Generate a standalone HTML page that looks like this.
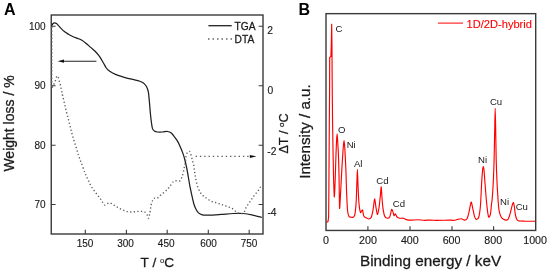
<!DOCTYPE html>
<html><head><meta charset="utf-8"><style>
html,body{margin:0;padding:0;background:#fff;}
body{width:550px;height:274px;overflow:hidden;font-family:"Liberation Sans",sans-serif;}
svg{display:block;will-change:transform;}
</style></head><body>
<svg width="550" height="274" viewBox="0 0 550 274">
<text x="4.0" y="15" font-family="Liberation Sans, sans-serif" font-size="16" font-weight="bold" fill="#000">A</text>
<rect x="51.25" y="15.0" width="211.75" height="219.0" fill="none" stroke="#3a3a3a" stroke-width="1.4"/>
<path d="M51.25 26.2H55.6 M258.6 26.2H263 M51.25 85.7H55.6 M258.6 85.7H263 M51.25 145.25H55.6 M258.6 145.25H263 M51.25 204.5H55.6 M258.6 204.5H263 M85.3 234V229.7 M126.4 234V229.7 M167.2 234V229.7 M208.3 234V229.7 M249.2 234V229.7" stroke="#3a3a3a" stroke-width="1.1" fill="none"/>
<text x="45.6" y="29.7" font-family="Liberation Sans, sans-serif" font-size="10" text-anchor="end" fill="#1a1a1a" stroke="#1a1a1a" stroke-width="0.14">100</text>
<text x="45.6" y="89.3" font-family="Liberation Sans, sans-serif" font-size="10" text-anchor="end" fill="#1a1a1a" stroke="#1a1a1a" stroke-width="0.14">90</text>
<text x="45.6" y="148.5" font-family="Liberation Sans, sans-serif" font-size="10" text-anchor="end" fill="#1a1a1a" stroke="#1a1a1a" stroke-width="0.14">80</text>
<text x="45.6" y="207.9" font-family="Liberation Sans, sans-serif" font-size="10" text-anchor="end" fill="#1a1a1a" stroke="#1a1a1a" stroke-width="0.14">70</text>
<text x="267.3" y="33.6" font-family="Liberation Sans, sans-serif" font-size="10.3" fill="#1a1a1a" stroke="#1a1a1a" stroke-width="0.14">2</text>
<text x="267.4" y="93.5" font-family="Liberation Sans, sans-serif" font-size="10.3" fill="#1a1a1a" stroke="#1a1a1a" stroke-width="0.14">0</text>
<text x="267.3" y="154.5" font-family="Liberation Sans, sans-serif" font-size="10.3" fill="#1a1a1a" stroke="#1a1a1a" stroke-width="0.14">-2</text>
<text x="267.4" y="215.8" font-family="Liberation Sans, sans-serif" font-size="10.3" fill="#1a1a1a" stroke="#1a1a1a" stroke-width="0.14">-4</text>
<text x="85.0" y="246.9" font-family="Liberation Sans, sans-serif" font-size="10" text-anchor="middle" fill="#1a1a1a" stroke="#1a1a1a" stroke-width="0.14">150</text>
<text x="125.5" y="246.9" font-family="Liberation Sans, sans-serif" font-size="10" text-anchor="middle" fill="#1a1a1a" stroke="#1a1a1a" stroke-width="0.14">300</text>
<text x="166.2" y="246.9" font-family="Liberation Sans, sans-serif" font-size="10" text-anchor="middle" fill="#1a1a1a" stroke="#1a1a1a" stroke-width="0.14">450</text>
<text x="208.6" y="246.9" font-family="Liberation Sans, sans-serif" font-size="10" text-anchor="middle" fill="#1a1a1a" stroke="#1a1a1a" stroke-width="0.14">600</text>
<text x="249.0" y="246.9" font-family="Liberation Sans, sans-serif" font-size="10" text-anchor="middle" fill="#1a1a1a" stroke="#1a1a1a" stroke-width="0.14">750</text>
<text x="140.6" y="267.1" font-family="Liberation Sans, sans-serif" font-size="13.6" fill="#1a1a1a" stroke="#1a1a1a" stroke-width="0.28">T / <tspan font-size="7.6" dy="-4.4" stroke-width="0.1">o</tspan><tspan dy="4.4">C</tspan></text>
<text transform="translate(14.0,171.6) rotate(-90)" x="0" y="0" font-family="Liberation Sans, sans-serif" font-size="14" fill="#1a1a1a" stroke="#1a1a1a" stroke-width="0.28">Weight loss / %</text>
<text transform="translate(288.1,153.6) rotate(-90)" x="0" y="0" font-family="Liberation Sans, sans-serif" font-size="12.7" fill="#1a1a1a" stroke="#1a1a1a" stroke-width="0.28">&#916;T / <tspan font-size="8" dy="-4.4">o</tspan><tspan dy="4.4">C</tspan></text>
<path d="M208.4 25.7H231.7" stroke="#222" stroke-width="1.3"/>
<text x="234.6" y="30.1" font-family="Liberation Sans, sans-serif" font-size="10.2" fill="#1a1a1a" stroke="#1a1a1a" stroke-width="0.28">TGA</text>
<path d="M208.0 38.9H232" stroke="#666" stroke-width="1.5" stroke-dasharray="1.5 3.0"/>
<text x="234.6" y="42.9" font-family="Liberation Sans, sans-serif" font-size="10.2" fill="#1a1a1a" stroke="#1a1a1a" stroke-width="0.28">DTA</text>
<path d="M51.90 25.60 C52.08 25.25 52.53 23.97 53.00 23.50 C53.47 23.03 54.12 22.78 54.70 22.80 C55.28 22.82 55.87 23.13 56.50 23.60 C57.13 24.07 57.92 24.97 58.50 25.60 C59.08 26.23 59.38 26.73 60.00 27.40 C60.62 28.07 61.47 28.92 62.20 29.60 C62.93 30.28 63.67 30.92 64.40 31.50 C65.13 32.08 65.87 32.60 66.60 33.10 C67.33 33.60 67.70 33.90 68.80 34.50 C69.90 35.10 71.75 36.07 73.20 36.70 C74.65 37.33 76.05 37.72 77.50 38.30 C78.95 38.88 80.43 39.33 81.90 40.20 C83.37 41.07 84.83 42.30 86.30 43.50 C87.77 44.70 89.23 46.12 90.70 47.40 C92.17 48.68 93.73 49.83 95.10 51.20 C96.47 52.57 97.87 54.25 98.90 55.60 C99.93 56.95 100.48 57.97 101.30 59.30 C102.12 60.63 102.97 62.15 103.80 63.60 C104.63 65.05 105.37 66.75 106.30 68.00 C107.23 69.25 108.27 70.22 109.40 71.10 C110.53 71.98 111.67 72.58 113.10 73.30 C114.53 74.02 116.13 74.73 118.00 75.40 C119.87 76.07 122.02 76.67 124.30 77.30 C126.58 77.93 129.43 78.65 131.70 79.20 C133.97 79.75 136.25 80.13 137.90 80.60 C139.55 81.07 140.57 81.50 141.60 82.00 C142.63 82.50 143.27 82.82 144.10 83.60 C144.93 84.38 145.90 85.35 146.60 86.70 C147.30 88.05 147.92 90.05 148.30 91.70 C148.68 93.35 148.70 94.75 148.90 96.60 C149.10 98.45 149.32 100.73 149.50 102.80 C149.68 104.87 149.82 106.88 150.00 109.00 C150.18 111.12 150.35 113.17 150.60 115.50 C150.85 117.83 151.18 120.82 151.50 123.00 C151.82 125.18 152.02 127.25 152.50 128.60 C152.98 129.95 153.57 130.53 154.40 131.10 C155.23 131.67 156.15 131.85 157.50 132.00 C158.85 132.15 160.83 132.08 162.50 132.00 C164.17 131.92 166.03 131.33 167.50 131.50 C168.97 131.67 170.15 132.12 171.30 133.00 C172.45 133.88 173.37 135.45 174.40 136.80 C175.43 138.15 176.57 139.53 177.50 141.10 C178.43 142.67 179.08 144.12 180.00 146.20 C180.92 148.28 182.18 151.30 183.00 153.60 C183.82 155.90 184.27 157.52 184.90 160.00 C185.53 162.48 186.33 166.28 186.80 168.50 C187.27 170.72 187.17 170.27 187.70 173.30 C188.23 176.33 189.20 182.53 190.00 186.70 C190.80 190.87 191.80 195.25 192.50 198.30 C193.20 201.35 193.62 203.18 194.20 205.00 C194.78 206.82 195.28 207.88 196.00 209.20 C196.72 210.52 197.47 211.97 198.50 212.90 C199.53 213.83 200.55 214.43 202.20 214.80 C203.85 215.17 205.30 215.17 208.40 215.10 C211.50 215.03 216.67 214.67 220.80 214.40 C224.93 214.13 229.48 213.65 233.20 213.50 C236.92 213.35 240.00 213.28 243.10 213.50 C246.20 213.72 248.68 214.13 251.80 214.80 C254.92 215.47 260.13 217.05 261.80 217.50" stroke="#1e1e1e" stroke-width="1.25" fill="none"/>
<path d="M51.80 27.00 C51.80 32.50 51.80 50.17 51.80 60.00 C51.80 69.83 51.63 81.67 51.80 86.00 C51.97 90.33 52.43 86.33 52.80 86.00 C53.17 85.67 53.57 84.88 54.00 84.00 C54.43 83.12 54.90 82.03 55.40 80.70 C55.90 79.37 56.48 76.45 57.00 76.00 C57.52 75.55 58.08 77.00 58.50 78.00 C58.92 79.00 59.18 80.83 59.50 82.00 C59.82 83.17 60.12 83.85 60.40 85.00 C60.68 86.15 60.93 87.63 61.20 88.90 C61.47 90.17 61.77 91.50 62.00 92.60 C62.23 93.70 62.18 93.68 62.60 95.50 C63.02 97.32 63.83 100.67 64.50 103.50 C65.17 106.33 65.90 109.67 66.60 112.50 C67.30 115.33 68.00 117.75 68.70 120.50 C69.40 123.25 70.10 126.27 70.80 129.00 C71.50 131.73 72.05 133.98 72.90 136.90 C73.75 139.82 74.97 143.43 75.90 146.50 C76.83 149.57 77.63 152.67 78.50 155.30 C79.37 157.93 80.08 159.53 81.10 162.30 C82.12 165.07 83.73 169.60 84.60 171.90 C85.47 174.20 85.58 174.48 86.30 176.10 C87.02 177.72 88.02 179.78 88.90 181.60 C89.78 183.42 90.57 185.28 91.60 187.00 C92.63 188.72 93.93 190.32 95.10 191.90 C96.27 193.48 97.63 195.23 98.60 196.50 C99.57 197.77 100.22 198.52 100.90 199.50 C101.58 200.48 102.05 201.47 102.70 202.40 C103.35 203.33 104.08 204.88 104.80 205.10 C105.52 205.32 106.17 204.08 107.00 203.70 C107.83 203.32 108.87 202.70 109.80 202.80 C110.73 202.90 111.72 203.78 112.60 204.30 C113.48 204.82 114.22 205.37 115.10 205.90 C115.98 206.43 116.97 206.98 117.90 207.50 C118.83 208.02 119.68 208.52 120.70 209.00 C121.72 209.48 122.87 209.97 124.00 210.40 C125.13 210.83 126.33 211.33 127.50 211.60 C128.67 211.87 129.82 211.98 131.00 212.00 C132.18 212.02 133.43 211.80 134.60 211.70 C135.77 211.60 136.82 211.45 138.00 211.40 C139.18 211.35 140.50 211.25 141.70 211.40 C142.90 211.55 144.25 211.63 145.20 212.30 C146.15 212.97 146.83 214.37 147.40 215.40 C147.97 216.43 148.25 218.63 148.60 218.50 C148.95 218.37 149.20 216.02 149.50 214.60 C149.80 213.18 150.13 211.60 150.40 210.00 C150.67 208.40 150.75 206.53 151.10 205.00 C151.45 203.47 151.98 201.92 152.50 200.80 C153.02 199.68 153.37 198.77 154.20 198.30 C155.03 197.83 156.40 198.55 157.50 198.00 C158.60 197.45 159.55 196.05 160.80 195.00 C162.05 193.95 163.75 192.82 165.00 191.70 C166.25 190.58 167.33 189.42 168.30 188.30 C169.27 187.18 169.97 186.10 170.80 185.00 C171.63 183.90 172.47 182.40 173.30 181.70 C174.13 181.00 174.68 180.95 175.80 180.80 C176.92 180.65 179.02 181.35 180.00 180.80 C180.98 180.25 181.15 178.88 181.70 177.50 C182.25 176.12 182.87 174.20 183.30 172.50 C183.73 170.80 183.93 169.22 184.30 167.30 C184.67 165.38 185.20 162.88 185.50 161.00 C185.80 159.12 185.77 157.42 186.10 156.00 C186.43 154.58 186.95 153.27 187.50 152.50 C188.05 151.73 188.88 151.32 189.40 151.40 C189.92 151.48 190.25 152.10 190.60 153.00 C190.95 153.90 191.18 155.53 191.50 156.80 C191.82 158.07 192.15 159.23 192.50 160.60 C192.85 161.97 193.28 163.37 193.60 165.00 C193.92 166.63 194.13 168.65 194.40 170.40 C194.67 172.15 194.90 173.73 195.20 175.50 C195.50 177.27 195.75 179.00 196.20 181.00 C196.65 183.00 197.22 185.60 197.90 187.50 C198.58 189.40 199.48 191.07 200.30 192.40 C201.12 193.73 201.97 194.67 202.80 195.50 C203.63 196.33 204.37 196.72 205.30 197.40 C206.23 198.08 207.27 198.88 208.40 199.60 C209.53 200.32 210.85 201.18 212.10 201.70 C213.35 202.22 214.65 202.33 215.90 202.70 C217.15 203.07 218.47 203.53 219.60 203.90 C220.73 204.27 221.57 204.53 222.70 204.90 C223.83 205.27 225.27 205.70 226.40 206.10 C227.53 206.50 228.37 206.78 229.50 207.30 C230.63 207.82 232.12 208.47 233.20 209.20 C234.28 209.93 235.12 211.03 236.00 211.70 C236.88 212.37 237.58 212.88 238.50 213.20 C239.42 213.52 240.52 213.85 241.50 213.60 C242.48 213.35 243.62 212.75 244.40 211.70 C245.18 210.65 245.48 208.65 246.20 207.30 C246.92 205.95 247.87 204.83 248.70 203.60 C249.53 202.37 250.37 201.13 251.20 199.90 C252.03 198.67 252.87 197.33 253.70 196.20 C254.53 195.07 255.37 194.13 256.20 193.10 C257.03 192.07 257.98 191.03 258.70 190.00 C259.42 188.97 259.92 187.63 260.50 186.90 C261.08 186.17 261.92 185.82 262.20 185.60" stroke="#626262" stroke-width="1.4" fill="none" stroke-dasharray="1.3 2.3"/>
<path d="M96.4 61.2H62" stroke="#222" stroke-width="1.1"/>
<path d="M57.6 61.2L64.0 59.6L64.0 62.8Z" fill="#111"/>
<path d="M195.6 156.4H249" stroke="#5e5e5e" stroke-width="1.4" stroke-dasharray="1.4 2.9"/>
<path d="M256.4 156.4L249.8 154.9L249.8 157.9Z" fill="#111"/>
<text x="298.6" y="15" font-family="Liberation Sans, sans-serif" font-size="16" font-weight="bold" fill="#000">B</text>
<rect x="326.0" y="13.65" width="209.7" height="216.8" fill="none" stroke="#3a3a3a" stroke-width="1.4"/>
<path d="M367.9 230.5V226.3 M410 230.5V226.3 M452 230.5V226.3 M493.6 230.5V226.3" stroke="#3a3a3a" stroke-width="1.1" fill="none"/>
<text x="326.1" y="244.0" font-family="Liberation Sans, sans-serif" font-size="10.7" text-anchor="middle" fill="#1a1a1a" stroke="#1a1a1a" stroke-width="0.14">0</text>
<text x="368" y="244.0" font-family="Liberation Sans, sans-serif" font-size="10.7" text-anchor="middle" fill="#1a1a1a" stroke="#1a1a1a" stroke-width="0.14">200</text>
<text x="409.8" y="244.0" font-family="Liberation Sans, sans-serif" font-size="10.7" text-anchor="middle" fill="#1a1a1a" stroke="#1a1a1a" stroke-width="0.14">400</text>
<text x="451.6" y="244.0" font-family="Liberation Sans, sans-serif" font-size="10.7" text-anchor="middle" fill="#1a1a1a" stroke="#1a1a1a" stroke-width="0.14">600</text>
<text x="493.2" y="244.0" font-family="Liberation Sans, sans-serif" font-size="10.7" text-anchor="middle" fill="#1a1a1a" stroke="#1a1a1a" stroke-width="0.14">800</text>
<text x="535.1" y="244.0" font-family="Liberation Sans, sans-serif" font-size="10.7" text-anchor="middle" fill="#1a1a1a" stroke="#1a1a1a" stroke-width="0.14">1000</text>
<text x="360.0" y="266.2" font-family="Liberation Sans, sans-serif" font-size="15.3" fill="#1a1a1a" stroke="#1a1a1a" stroke-width="0.28">Binding energy / keV</text>
<text transform="translate(310.4,178.8) rotate(-90)" x="0" y="0" font-family="Liberation Sans, sans-serif" font-size="15.2" fill="#1a1a1a" stroke="#1a1a1a" stroke-width="0.28">Intensity / a.u.</text>
<path d="M437.9 23.1H463" stroke="#ff0000" stroke-width="1.0"/>
<text x="466.6" y="27.7" font-family="Liberation Sans, sans-serif" font-size="11.1" fill="#ff0000" stroke="#ff0000" stroke-width="0.12">1D/2D-hybrid</text>
<path d="M326.30 222.20 L328.00 221.60 L328.60 217.00 L328.80 200.00 L329.00 170.00 L329.30 125.00 L329.60 90.00 L329.70 57.50 L330.90 56.50 L331.30 45.00 L331.70 24.20 L331.95 45.00 L332.10 70.00 L332.30 95.00 L332.60 125.00 L333.10 155.00 L333.60 180.00 L333.60 180.00 C333.68 181.94 334.11 195.43 334.25 196.60 C334.39 197.77 334.65 193.10 334.80 190.00 C334.95 186.90 335.36 174.20 335.50 170.00 C335.64 165.80 335.87 157.50 336.00 154.00 C336.13 150.50 336.47 142.37 336.60 140.00 C336.73 137.63 336.98 133.70 337.10 133.70 C337.22 133.70 337.45 137.63 337.60 140.00 C337.75 142.37 338.24 149.92 338.40 154.00 C338.56 158.08 338.89 170.22 339.00 175.00 C339.11 179.78 339.23 191.09 339.30 195.00 C339.37 198.91 339.50 207.92 339.60 208.50 C339.71 209.08 340.04 202.74 340.20 200.00 C340.36 197.26 340.78 189.08 341.00 185.00 C341.22 180.92 341.84 169.32 342.10 165.00 C342.36 160.68 342.98 150.85 343.20 148.00 C343.42 145.15 343.81 140.60 344.00 140.60 C344.19 140.60 344.58 144.57 344.80 148.00 C345.02 151.43 345.70 165.10 345.90 170.00 C346.10 174.90 346.31 185.33 346.50 190.00 C346.69 194.67 347.21 206.90 347.50 210.00 C347.79 213.10 348.59 215.76 349.00 216.60 C349.41 217.44 350.49 217.13 351.00 217.20 C351.51 217.27 352.99 217.40 353.40 217.20 C353.81 217.00 354.29 216.04 354.50 215.50 C354.71 214.96 355.00 214.25 355.20 212.60 C355.40 210.95 356.01 204.62 356.20 201.40 C356.39 198.18 356.66 188.75 356.80 185.00 C356.94 181.25 357.26 169.30 357.40 169.30 C357.54 169.30 357.86 181.65 358.00 185.00 C358.14 188.35 358.45 195.50 358.60 198.00 C358.75 200.50 359.08 204.70 359.30 206.40 C359.52 208.10 360.24 212.06 360.50 212.60 C360.76 213.14 361.27 211.29 361.50 211.00 C361.73 210.71 362.24 209.53 362.50 210.10 C362.76 210.67 363.34 215.03 363.70 215.90 C364.06 216.78 365.02 217.24 365.60 217.60 C366.18 217.96 368.06 219.00 368.70 219.00 C369.34 219.00 370.60 218.64 371.10 217.60 C371.60 216.56 372.59 212.27 373.00 210.10 C373.41 207.93 374.25 199.29 374.60 199.00 C374.95 198.71 375.66 205.79 376.00 207.60 C376.34 209.41 377.13 214.64 377.50 214.50 C377.87 214.36 378.86 208.65 379.20 206.40 C379.54 204.15 380.17 197.47 380.40 195.20 C380.63 192.92 381.01 186.61 381.20 186.90 C381.39 187.19 381.80 195.28 382.00 197.70 C382.20 200.11 382.58 205.43 382.90 207.60 C383.21 209.77 384.20 215.06 384.70 216.30 C385.20 217.54 386.62 218.12 387.20 218.20 C387.78 218.28 389.19 218.01 389.70 217.00 C390.21 215.99 391.24 210.15 391.60 209.50 C391.96 208.85 392.52 210.68 392.80 211.40 C393.08 212.12 393.71 215.41 394.00 215.70 C394.29 215.99 394.94 213.75 395.30 213.90 C395.66 214.05 396.60 216.50 397.10 217.00 C397.60 217.50 398.87 218.06 399.60 218.20 C400.34 218.34 402.68 218.06 403.40 218.20 C404.12 218.34 405.23 219.18 405.80 219.40 C406.37 219.62 407.58 220.02 408.30 220.10 C409.02 220.18 410.87 220.13 412.00 220.10 C413.13 220.06 416.60 219.78 418.00 219.80 C419.40 219.82 422.55 220.27 424.00 220.30 C425.45 220.34 429.00 220.09 430.40 220.10 C431.80 220.11 434.55 220.38 436.00 220.40 C437.45 220.42 441.40 220.34 442.80 220.30 C444.20 220.27 446.69 220.10 448.00 220.10 C449.31 220.10 452.87 220.38 454.00 220.30 C455.13 220.22 456.84 219.58 457.70 219.40 C458.56 219.22 460.61 218.72 461.40 218.80 C462.19 218.88 463.85 220.10 464.50 220.10 C465.15 220.10 466.49 219.68 467.00 218.80 C467.51 217.93 468.42 214.55 468.90 212.60 C469.38 210.65 470.67 202.68 471.10 202.10 C471.53 201.52 472.20 205.94 472.60 207.60 C473.00 209.26 474.07 214.92 474.50 216.30 C474.93 217.68 475.80 219.32 476.30 219.40 C476.80 219.48 478.31 218.68 478.80 217.00 C479.29 215.32 480.16 209.09 480.50 205.00 C480.84 200.91 481.45 185.98 481.70 181.90 C481.94 177.82 482.43 171.78 482.60 170.00 C482.78 168.22 483.04 166.60 483.20 166.60 C483.36 166.60 483.80 168.22 484.00 170.00 C484.20 171.78 484.58 177.96 484.90 181.90 C485.21 185.84 486.27 199.71 486.70 203.80 C487.13 207.90 488.16 215.82 488.60 217.00 C489.04 218.18 490.16 215.44 490.50 213.90 C490.84 212.36 491.31 205.42 491.50 203.80 C491.69 202.18 491.89 202.56 492.10 200.00 C492.31 197.44 493.07 186.57 493.30 181.90 C493.53 177.23 493.94 166.06 494.10 160.00 C494.26 153.94 494.57 136.03 494.70 130.00 C494.83 123.97 495.08 108.30 495.20 108.30 C495.32 108.30 495.58 123.97 495.70 130.00 C495.82 136.03 496.05 153.94 496.20 160.00 C496.35 166.06 496.82 177.93 497.00 181.90 C497.18 185.87 497.56 191.66 497.70 194.00 C497.84 196.34 498.04 200.06 498.20 202.00 C498.36 203.94 498.77 208.87 499.10 210.60 C499.43 212.33 500.49 215.78 501.00 216.80 C501.51 217.82 502.85 218.92 503.50 219.30 C504.15 219.69 506.03 220.17 506.60 220.10 C507.17 220.03 507.97 219.52 508.40 218.70 C508.83 217.88 509.87 214.63 510.30 213.10 C510.73 211.57 511.74 206.84 512.10 205.60 C512.46 204.36 513.13 202.35 513.40 202.50 C513.67 202.65 514.19 205.59 514.40 206.90 C514.61 208.21 514.96 212.32 515.20 213.70 C515.45 215.08 516.14 217.87 516.50 218.70 C516.86 219.53 517.37 220.51 518.30 220.80 C519.23 221.09 522.55 221.15 524.50 221.20 C526.45 221.25 533.77 221.20 535.00 221.20" stroke="#ff0000" stroke-width="1.15" fill="none" stroke-linejoin="round"/>
<text x="335.6" y="32.4" font-family="Liberation Sans, sans-serif" font-size="9.6" fill="#1a1a1a">C</text>
<text x="338.0" y="133.0" font-family="Liberation Sans, sans-serif" font-size="9.6" fill="#1a1a1a">O</text>
<text x="346.7" y="148.1" font-family="Liberation Sans, sans-serif" font-size="9.6" fill="#1a1a1a">Ni</text>
<text x="353.9" y="166.9" font-family="Liberation Sans, sans-serif" font-size="9.6" fill="#1a1a1a">Al</text>
<text x="376.3" y="184.1" font-family="Liberation Sans, sans-serif" font-size="9.6" fill="#1a1a1a">Cd</text>
<text x="392.8" y="207.4" font-family="Liberation Sans, sans-serif" font-size="9.6" fill="#1a1a1a">Cd</text>
<text x="478.0" y="163.3" font-family="Liberation Sans, sans-serif" font-size="9.6" fill="#1a1a1a">Ni</text>
<text x="489.9" y="104.8" font-family="Liberation Sans, sans-serif" font-size="9.6" fill="#1a1a1a">Cu</text>
<text x="500.0" y="205.4" font-family="Liberation Sans, sans-serif" font-size="9.6" fill="#1a1a1a">Ni</text>
<text x="515.7" y="210.0" font-family="Liberation Sans, sans-serif" font-size="9.6" fill="#1a1a1a">Cu</text>
</svg>
</body></html>
